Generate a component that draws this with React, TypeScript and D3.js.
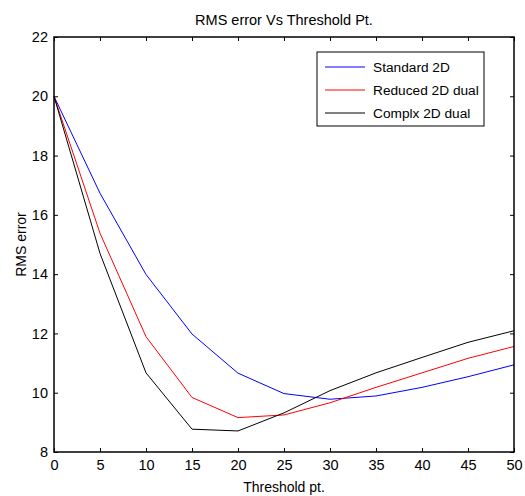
import React, { useRef, useEffect } from "react";
import * as d3 from "d3";

const thresholds = [0, 5, 10, 15, 20, 25, 30, 35, 40, 45, 50];
const standard2D = [20.0, 16.73, 13.99, 11.98, 10.66, 9.97, 9.78, 9.89, 10.18, 10.54, 10.94];
const reduced2DDual = [20.0, 15.38, 11.89, 9.84, 9.16, 9.25, 9.66, 10.18, 10.67, 11.16, 11.56];
const complx2DDual = [20.0, 14.7, 10.67, 8.77, 8.71, 9.32, 10.07, 10.67, 11.19, 11.7, 12.09];
const xTicks = [0, 5, 10, 15, 20, 25, 30, 35, 40, 45, 50];
const yTicks = [8, 10, 12, 14, 16, 18, 20, 22];

const seriesList = [
  { name: "Standard 2D", values: standard2D, color: "#0000ff" },
  { name: "Reduced 2D dual", values: reduced2DDual, color: "#ff0000" },
  { name: "Complx 2D dual", values: complx2DDual, color: "#000000" },
];

const App = () => {
  const svgRef = useRef<SVGSVGElement>(null);

  useEffect(() => {
    const width = 525;
    const height = 496;
    const margin = { top: 37, right: 11, bottom: 44, left: 54 };
    const innerW = width - margin.left - margin.right;
    const innerH = height - margin.top - margin.bottom;
    const font = "Liberation Sans, Arial, sans-serif";

    const svg = d3.select(svgRef.current);
    svg.selectAll("*").remove();

    const x = d3.scaleLinear().domain([0, 50]).range([0, innerW]);
    const y = d3.scaleLinear().domain([8, 22]).range([innerH, 0]);

    const chart = svg
      .append("g")
      .attr("transform", `translate(${margin.left}, ${margin.top})`);

    chart
      .append("rect")
      .attr("width", innerW)
      .attr("height", innerH)
      .attr("fill", "white");

    // Lines
    const line = d3
      .line<number>()
      .x((d, i) => x(thresholds[i]))
      .y((d) => y(d));

    seriesList.forEach((s) => {
      chart
        .append("path")
        .datum(s.values)
        .attr("fill", "none")
        .attr("stroke", s.color)
        .attr("stroke-width", 1)
        .attr("d", line);
    });

    // Axes (inward ticks on all sides)
    const styleAxis = (g) => {
      g.select(".domain").remove();
      g.selectAll("text")
        .attr("font-family", font)
        .attr("font-size", 14.5)
        .attr("fill", "black");
      g.selectAll(".tick line").attr("stroke", "black");
    };

    chart
      .append("g")
      .attr("transform", `translate(0, ${innerH})`)
      .call(d3.axisBottom(x).tickValues(xTicks).tickSizeInner(-4).tickSizeOuter(0).tickPadding(8))
      .call(styleAxis);

    chart
      .append("g")
      .call(d3.axisTop(x).tickValues(xTicks).tickSizeInner(-4).tickSizeOuter(0).tickFormat(() => ""))
      .call(styleAxis);

    chart
      .append("g")
      .call(d3.axisLeft(y).tickValues(yTicks).tickSizeInner(-4).tickSizeOuter(0).tickPadding(6))
      .call(styleAxis);

    chart
      .append("g")
      .attr("transform", `translate(${innerW}, 0)`)
      .call(d3.axisRight(y).tickValues(yTicks).tickSizeInner(-4).tickSizeOuter(0).tickFormat(() => ""))
      .call(styleAxis);

    // Box
    chart
      .append("rect")
      .attr("width", innerW)
      .attr("height", innerH)
      .attr("fill", "none")
      .attr("stroke", "black")
      .attr("stroke-width", 1.5);

    // Title and labels
    svg
      .append("text")
      .attr("x", margin.left + innerW / 2)
      .attr("y", 25)
      .attr("text-anchor", "middle")
      .attr("font-family", font)
      .attr("font-size", 14.5)
      .text("RMS error Vs Threshold Pt.");

    svg
      .append("text")
      .attr("x", margin.left + innerW / 2)
      .attr("y", 492)
      .attr("text-anchor", "middle")
      .attr("font-family", font)
      .attr("font-size", 14)
      .text("Threshold pt.");

    svg
      .append("text")
      .attr("transform", `translate(26, ${margin.top + innerH / 2}) rotate(-90)`)
      .attr("text-anchor", "middle")
      .attr("font-family", font)
      .attr("font-size", 14)
      .text("RMS error");

    // Legend
    const legend = svg.append("g").attr("transform", "translate(317, 52)");
    legend
      .append("rect")
      .attr("width", 167)
      .attr("height", 74)
      .attr("fill", "white")
      .attr("stroke", "black")
      .attr("stroke-width", 1);

    seriesList.forEach((s, i) => {
      const ly = 15 + i * 23;
      legend
        .append("line")
        .attr("x1", 8)
        .attr("x2", 48)
        .attr("y1", ly)
        .attr("y2", ly)
        .attr("stroke", s.color)
        .attr("stroke-width", 1);
      legend
        .append("text")
        .attr("x", 56)
        .attr("y", ly + 5)
        .attr("font-family", font)
        .attr("font-size", 13.7)
        .text(s.name);
    });
  }, []);

  return (
    <svg
      ref={svgRef}
      width={525}
      height={496}
      style={{ position: "absolute", left: 0, top: 0, background: "white" }}
    ></svg>
  );
};

export default App;
